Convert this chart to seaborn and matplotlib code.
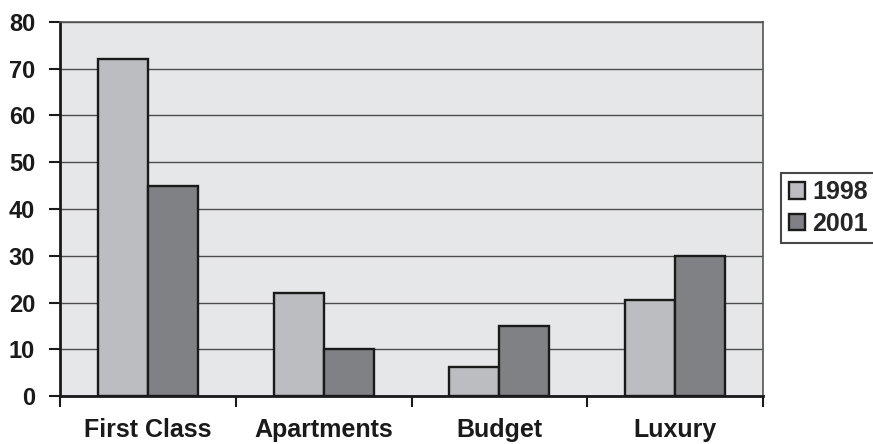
import matplotlib
matplotlib.use("Agg")
import matplotlib.pyplot as plt
import pandas as pd
import seaborn as sns

categories = ["First Class", "Apartments", "Budget", "Luxury"]
years = ["1998", "2001"]
values_1998 = [72, 22, 6.2, 20.5]
values_2001 = [45, 10, 15, 30]
y_ticks = [0, 10, 20, 30, 40, 50, 60, 70, 80]

df = pd.DataFrame({
    "category": categories * 2,
    "year": [years[0]] * len(categories) + [years[1]] * len(categories),
    "value": values_1998 + values_2001,
})

sns.set_theme(style="white")
plt.rcParams["font.family"] = ["Liberation Sans", "DejaVu Sans"]

fig = plt.figure(figsize=(8.73, 4.44), dpi=100)
ax = fig.add_axes([60 / 873, 48 / 444, 703 / 873, 374 / 444])
ax.set_facecolor("#e6e7e9")

sns.barplot(data=df, x="category", y="value", hue="year", order=categories,
            hue_order=years, palette=["#bcbdc1", "#808184"], width=0.57,
            edgecolor="#1a1a1a", linewidth=1.7, saturation=1, ax=ax, zorder=3)

ax.set_ylim(0, 80)
ax.set_xlim(-0.5, len(categories) - 0.5)
ax.set_yticks(y_ticks)
ax.yaxis.grid(True, color="#4d4d4d", linewidth=1.0, zorder=0)
ax.set_axisbelow(True)
ax.set_xlabel("")
ax.set_ylabel("")

ax.tick_params(axis="y", direction="out", length=8, width=1.5, color="#1a1a1a",
               labelsize=17, pad=10, left=True)
ax.tick_params(axis="x", length=0, labelsize=18, pad=16)
ax.set_xticks([i - 0.5 for i in range(len(categories) + 1)], minor=True)
ax.tick_params(axis="x", which="minor", direction="out", length=8, width=1.5,
               color="#1a1a1a", bottom=True)
for lab in ax.get_xticklabels() + ax.get_yticklabels():
    lab.set_fontweight("bold")
    lab.set_color("#1a1a1a")

for side in ["left", "bottom"]:
    ax.spines[side].set_color("#1a1a1a")
    ax.spines[side].set_linewidth(2)
for side in ["top", "right"]:
    ax.spines[side].set_color("#555555")
    ax.spines[side].set_linewidth(1.2)

ax.legend(loc="center left", bbox_to_anchor=(781 / 873, (444 - 208) / 444),
          bbox_transform=fig.transFigure, frameon=True, fancybox=False,
          edgecolor="#1a1a1a", prop={"weight": "bold", "size": 18},
          handlelength=0.65, handleheight=0.65, handletextpad=0.3,
          borderpad=0.3, labelspacing=0.3, borderaxespad=0)
ax.get_legend().get_frame().set_linewidth(1.5)

fig.savefig("out.png", dpi=100)
